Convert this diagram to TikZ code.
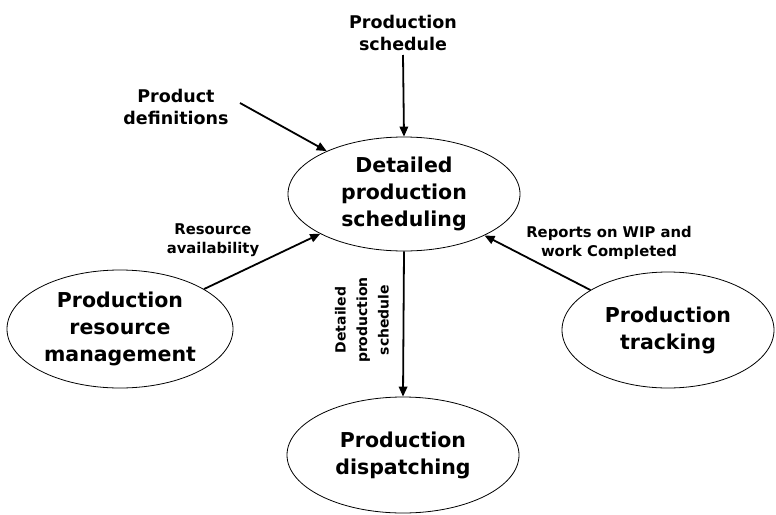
\documentclass[tikz,border=0pt]{standalone}
\usepackage{fontspec}
\setmainfont{DejaVu Sans}
\usetikzlibrary{shapes.geometric,arrows.meta}

\tikzset{
  activity/.style={ellipse, draw, line width=0.8pt, inner sep=0pt, align=center,
    font=\bfseries\fontsize{20.5}{27}\selectfont},
  flowlabel/.style={inner sep=0pt, align=center, font=\bfseries\fontsize{17.5}{22.5}\selectfont},
  smalllabel/.style={inner sep=0pt, align=center, font=\bfseries\fontsize{14.8}{19.5}\selectfont},
  flow/.style={line width=1.8pt, -{Triangle[length=10pt,width=8.5pt]}}
}

\begin{document}
\begin{tikzpicture}[x=1pt,y=-1pt]
  \useasboundingbox (0,0) rectangle (776,514);

  % activities
  \node[activity, minimum width=232pt, minimum height=114pt] (dps) at (404,194)
    {Detailed\\production\\scheduling};
  \node[activity, minimum width=226pt, minimum height=118pt] (res) at (120,329)
    {Production\\resource\\management};
  \node[activity, minimum width=212pt, minimum height=116pt] (trk) at (668,330)
    {Production\\tracking};
  \node[activity, minimum width=232pt, minimum height=116pt] (disp) at (403,455)
    {Production\\dispatching};

  % inputs
  \node[flowlabel] (ps) at (403,33) {Production\\schedule};
  \node[flowlabel] (pd) at (176,107) {Product\\definitions};
  \coordinate (pdstart) at (240,103);

  % flow labels
  \node[smalllabel] (ra) at (213,240) {Resource\\availability};
  \node[smalllabel] (rw) at (609,243) {Reports on WIP and\\work Completed};
  \node[smalllabel, font=\bfseries\fontsize{14}{21.5}\selectfont, rotate=90] (dsched) at (362,320)
    {Detailed\\production\\schedule};

  % connectors
  \draw[flow] (ps.south |- 0,55) -- (dps.north);
  \draw[flow] (pdstart) -- (dps);
  \draw[flow] (res) -- (dps);
  \draw[flow] (trk) -- (dps);
  \draw[flow] (dps.south) -- (disp.north);
\end{tikzpicture}
\end{document}
